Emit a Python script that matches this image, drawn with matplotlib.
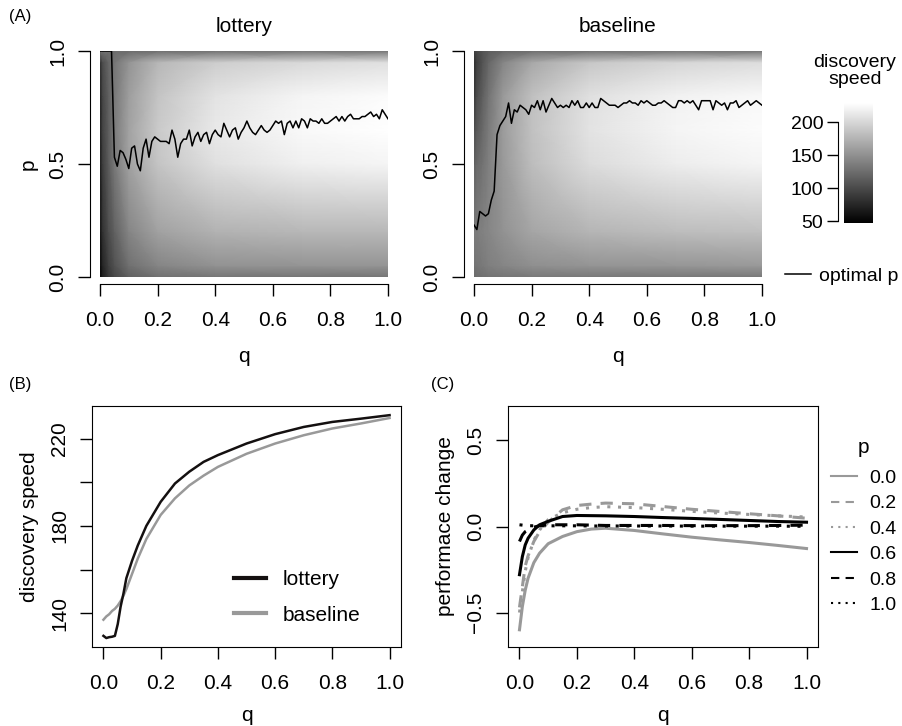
import numpy as np
import matplotlib
matplotlib.use("Agg")
import matplotlib.pyplot as plt
from matplotlib.lines import Line2D

plt.rcParams['font.family'] = ['Liberation Sans', 'DejaVu Sans']
plt.rcParams['font.size'] = 15

# optimal p along q (panel A lines)
q_opt = np.round(np.arange(101) * 0.01, 2)
lottery_opt_p = [1.0, 1.0, 1.0, 1.0, 1.0, 0.53, 0.49, 0.56, 0.55, 0.52,
                 0.48, 0.57, 0.58, 0.50, 0.47, 0.57, 0.61, 0.53, 0.60, 0.62,
                 0.61, 0.60, 0.60, 0.60, 0.59, 0.65, 0.61, 0.53, 0.59, 0.61,
                 0.61, 0.65, 0.58, 0.62, 0.64, 0.60, 0.63, 0.64, 0.59, 0.63,
                 0.65, 0.63, 0.62, 0.68, 0.65, 0.62, 0.65, 0.66, 0.61, 0.64,
                 0.66, 0.69, 0.66, 0.64, 0.63, 0.65, 0.67, 0.65, 0.64, 0.65,
                 0.67, 0.69, 0.68, 0.69, 0.63, 0.68, 0.69, 0.66, 0.69, 0.66,
                 0.70, 0.69, 0.66, 0.70, 0.69, 0.69, 0.68, 0.70, 0.68, 0.68,
                 0.69, 0.70, 0.71, 0.69, 0.71, 0.69, 0.71, 0.72, 0.70, 0.70,
                 0.70, 0.71, 0.71, 0.72, 0.73, 0.71, 0.72, 0.70, 0.74, 0.72,
                 0.70]
baseline_opt_p = [0.23, 0.21, 0.29, 0.28, 0.27, 0.28, 0.34, 0.38, 0.63, 0.67,
                  0.69, 0.71, 0.77, 0.68, 0.74, 0.73, 0.76, 0.75, 0.74, 0.72,
                  0.76, 0.75, 0.78, 0.74, 0.78, 0.73, 0.76, 0.79, 0.77, 0.75,
                  0.76, 0.75, 0.76, 0.75, 0.78, 0.76, 0.78, 0.75, 0.75, 0.77,
                  0.75, 0.77, 0.75, 0.75, 0.79, 0.78, 0.77, 0.76, 0.76, 0.76,
                  0.75, 0.76, 0.77, 0.77, 0.78, 0.77, 0.77, 0.76, 0.78, 0.77,
                  0.78, 0.77, 0.76, 0.76, 0.77, 0.77, 0.78, 0.77, 0.76, 0.75,
                  0.75, 0.78, 0.78, 0.77, 0.78, 0.77, 0.78, 0.76, 0.74, 0.78,
                  0.78, 0.78, 0.78, 0.74, 0.78, 0.77, 0.76, 0.77, 0.74, 0.77,
                  0.77, 0.78, 0.75, 0.76, 0.77, 0.78, 0.76, 0.77, 0.78, 0.77,
                  0.76]

# discovery speed surface (coarse grid), rows = p
grid_q = [0, 0.01, 0.03, 0.05, 0.1, 0.2, 0.4, 0.7, 1.0]
grid_p = [0, 0.05, 0.2, 0.5, 0.65, 0.8, 0.95, 1.0]
lottery_speed = [
    [52, 69, 87, 98, 116, 127, 131, 131, 131],
    [56, 74, 92, 105, 127, 142, 151, 153, 153],
    [62, 83, 102, 116, 142, 162, 174, 178, 178],
    [69, 92, 113, 133, 162, 187, 207, 218, 222],
    [72, 96, 114, 134, 163, 191, 213, 225, 229],
    [74, 98, 116, 133, 160, 187, 209, 222, 227],
    [83, 102, 120, 131, 153, 178, 193, 202, 207],
    [129, 129, 127, 123, 123, 125, 127, 129, 129],
]
baseline_speed = [
    [123, 125, 127, 129, 131, 133, 133, 133, 133],
    [129, 131, 134, 138, 142, 149, 153, 154, 156],
    [136, 136, 140, 143, 151, 165, 176, 182, 184],
    [116, 122, 129, 138, 156, 182, 204, 216, 222],
    [102, 111, 123, 134, 158, 185, 209, 222, 227],
    [87, 102, 116, 129, 156, 184, 207, 220, 225],
    [80, 93, 107, 120, 142, 167, 189, 200, 205],
    [93, 98, 107, 113, 120, 125, 127, 129, 129],
]
speed_min, speed_max = 47, 229.3

# panel B
b_q = [0, 0.01, 0.02, 0.03, 0.04, 0.05, 0.06, 0.07, 0.08, 0.1, 0.12, 0.15,
       0.2, 0.25, 0.3, 0.35, 0.4, 0.5, 0.6, 0.7, 0.8, 0.9, 1.0]
b_lottery = [129.6, 128.6, 129.0, 129.2, 129.6, 135, 143, 149, 156, 164, 171,
             180, 191, 199.4, 204.8, 209.3, 212.4, 217.7, 222, 225.3, 227.6,
             229.1, 230.7]
b_baseline = [137, 138.5, 139.5, 141, 142, 143.5, 145.5, 148, 151, 158, 165,
              174, 185, 192.6, 198.5, 203, 207, 213, 217.7, 221.5, 224.6,
              226.9, 229.4]

# panel C
c_q = [0, 0.01, 0.02, 0.03, 0.05, 0.07, 0.1, 0.15, 0.2, 0.25, 0.3, 0.4,
       0.5, 0.6, 0.7, 0.8, 0.9, 1.0]
c_p00 = [-0.60, -0.465, -0.37, -0.30, -0.21, -0.155, -0.10, -0.058, -0.03,
         -0.015, -0.01, -0.023, -0.043, -0.062, -0.078, -0.093, -0.11, -0.128]
c_p02 = [-0.47, -0.35, -0.23, -0.17, -0.087, -0.03, 0.025, 0.097, 0.122,
         0.13, 0.136, 0.132, 0.116, 0.10, 0.087, 0.074, 0.062, 0.048]
c_p04 = [-0.50, -0.38, -0.26, -0.18, -0.08, -0.02, 0.04, 0.08, 0.10, 0.11,
         0.115, 0.11, 0.10, 0.088, 0.078, 0.07, 0.062, 0.055]
c_p06 = [-0.28, -0.175, -0.107, -0.068, -0.02, 0.01, 0.03, 0.058, 0.064,
         0.063, 0.062, 0.058, 0.052, 0.047, 0.041, 0.035, 0.029, 0.025]
c_p08 = [-0.087, -0.05, -0.03, -0.02, -0.004, 0.005, 0.01, 0.01, 0.01,
         0.008, 0.006, 0.006, 0.006, 0.005, 0.005, 0.005, 0.006, 0.008]
c_p10 = [0.01, 0.008, 0.006, 0.005, 0.004, 0.004, 0.004, 0.004, 0.004,
         0.003, 0.003, 0.003, 0.003, 0.002, 0.002, 0.002, 0.002, 0.001]
c_labels = ['0.0', '0.2', '0.4', '0.6', '0.8', '1.0']

GRAY = '#999999'
W, H = 903, 726


def box(x0, y0, x1, y1):
    # pixel box (from top-left) -> figure fraction
    return [x0 / W, 1 - y1 / H, (x1 - x0) / W, (y1 - y0) / H]


fig = plt.figure(figsize=(W / 100, H / 100), dpi=100)

ticklen = 8.5
qlabels = ['0.0', '0.2', '0.4', '0.6', '0.8', '1.0']


def heat_axes(rect, Z, opt_p, title, ylabel):
    ax = fig.add_axes(rect)
    mesh = ax.pcolormesh(grid_q, grid_p, np.array(Z, dtype=float),
                         shading='gouraud', cmap='gray',
                         vmin=speed_min, vmax=speed_max, rasterized=True)
    ax.plot(q_opt, opt_p, color='black', lw=1.1)
    ax.set_xlim(0, 1)
    ax.set_ylim(0, 1)
    for s in ['top', 'right']:
        ax.spines[s].set_visible(False)
    ax.spines['left'].set_position(('outward', 7))
    ax.spines['bottom'].set_position(('outward', 5))
    ax.spines['left'].set_bounds(0, 1)
    ax.spines['bottom'].set_bounds(0, 1)
    ax.set_xticks(np.arange(0, 1.01, 0.2))
    ax.set_xticklabels(qlabels)
    ax.set_yticks([0, 0.5, 1.0])
    ax.set_yticklabels(['0.0', '0.5', '1.0'], rotation=90, va='center')
    ax.tick_params(length=ticklen, width=1, pad=8)
    ax.tick_params(axis='x', pad=11)
    ax.set_title(title, fontsize=15, pad=14)
    ax.set_xlabel('q', labelpad=12)
    if ylabel:
        ax.set_ylabel(ylabel, labelpad=8)
    return ax, mesh


axA1, mesh = heat_axes(box(100, 51, 388, 277), lottery_speed, lottery_opt_p,
                       'lottery', 'p')
axA2, _ = heat_axes(box(474, 51, 762, 277), baseline_speed, baseline_opt_p,
                    'baseline', None)

cax = fig.add_axes(box(844, 103, 873, 223))
cb = fig.colorbar(mesh, cax=cax)
cb.outline.set_visible(False)
cb.set_ticks([50, 100, 150, 200])
cax.yaxis.set_ticks_position('left')
cax.yaxis.set_label_position('left')
cax.spines['left'].set_visible(True)
cax.spines['left'].set_position(('outward', 4))
cax.spines['left'].set_bounds(50, 200)
cax.tick_params(length=8, width=1, pad=3, labelsize=14)
fig.text(855 / W, 1 - 71 / H, 'discovery\nspeed', ha='center', va='center',
         fontsize=14, linespacing=1.0)
fig.legend(handles=[Line2D([], [], color='black', lw=1.1)],
           labels=['optimal p'], loc='center left',
           bbox_to_anchor=(785 / W, 1 - 276 / H), frameon=False,
           borderpad=0, borderaxespad=0, handlelength=1.35,
           handletextpad=0.4, fontsize=14)

# panel B
axB = fig.add_axes(box(92, 406, 401, 647))
axB.plot(b_q, b_baseline, color=GRAY, lw=1.8)
axB.plot(b_q, b_lottery, color='#141010', lw=1.8)
axB.set_xlim(-0.04, 1.04)
axB.set_ylim(124.5, 234.9)
axB.set_xticks(np.arange(0, 1.01, 0.2))
axB.set_xticklabels(qlabels)
axB.set_yticks([140, 160, 180, 200, 220])
axB.set_yticklabels(['140', '', '180', '', '220'], rotation=90, va='center')
axB.tick_params(length=ticklen, width=1, pad=8)
axB.tick_params(axis='x', pad=11)
axB.set_xlabel('q', labelpad=9)
axB.set_ylabel('discovery speed', labelpad=8)
axB.legend(handles=[Line2D([], [], color='#141010', lw=3),
                    Line2D([], [], color=GRAY, lw=3)],
           labels=['lottery', 'baseline'], loc='upper left',
           bbox_to_anchor=(0.40, 0.397), frameon=False, handlelength=1.5,
           handletextpad=0.8, labelspacing=0.8, fontsize=15)

# panel C
axC = fig.add_axes(box(508, 406, 818, 647))
c_series = [c_p00, c_p02, c_p04, c_p06, c_p08, c_p10]
c_colors = [GRAY, GRAY, GRAY, 'black', 'black', 'black']
c_styles = ['-', (0, (4, 3)), (0, (1, 2.5)), '-', (0, (4, 3)), (0, (1, 2.5))]
for vals, col, ls in zip(c_series, c_colors, c_styles):
    axC.plot(c_q, vals, color=col, lw=2.2, linestyle=ls)
axC.set_xlim(-0.04, 1.04)
axC.set_ylim(-0.70, 0.70)
axC.set_xticks(np.arange(0, 1.01, 0.2))
axC.set_xticklabels(qlabels)
axC.set_yticks([-0.5, 0.0, 0.5])
axC.set_yticklabels(['\u22120.5', '0.0', '0.5'], rotation=90, va='center')
axC.tick_params(length=ticklen, width=1, pad=8)
axC.tick_params(axis='x', pad=11)
axC.set_xlabel('q', labelpad=9)
axC.set_ylabel('performace change', labelpad=8)
handles = [Line2D([], [], color=c, lw=1.5, linestyle=s)
           for c, s in zip(c_colors, c_styles)]
leg = axC.legend(handles=handles, labels=c_labels, title='p',
                 loc='upper left', bbox_to_anchor=(0.985, 0.94),
                 frameon=False, handlelength=1.35, handletextpad=0.65,
                 labelspacing=0.4, fontsize=14, title_fontsize=15)
leg._legend_box.sep = 9

fig.text(20 / W, 1 - 16 / H, '(A)', ha='center', va='center', fontsize=12)
fig.text(20 / W, 1 - 385 / H, '(B)', ha='center', va='center', fontsize=12)
fig.text(443 / W, 1 - 385 / H, '(C)', ha='center', va='center', fontsize=12)

fig.savefig('out.png', dpi=100)
